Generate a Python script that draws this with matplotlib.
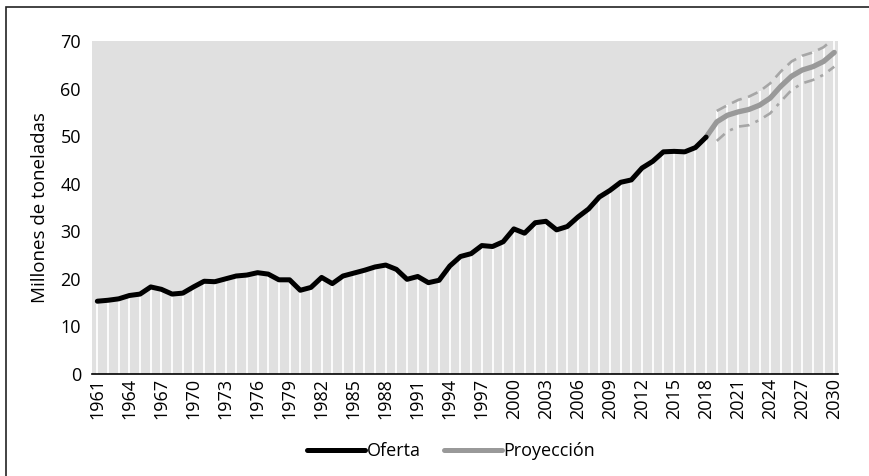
import matplotlib
matplotlib.use("Agg")
import matplotlib.pyplot as plt
from matplotlib.lines import Line2D
import numpy as np

plt.rcParams['font.family'] = ['Open Sans', 'DejaVu Sans']

years = list(range(1961, 2031))
oferta = [15.3, 15.5, 15.8, 16.5, 16.8, 18.3, 17.8, 16.8, 17.0, 18.3,
          19.5, 19.4, 20.0, 20.6, 20.8, 21.3, 21.0, 19.8, 19.8, 17.6,
          18.2, 20.3, 19.0, 20.6, 21.2, 21.8, 22.5, 22.9, 22.0, 19.9,
          20.5, 19.2, 19.7, 22.7, 24.7, 25.3, 27.0, 26.8, 27.8, 30.5,
          29.6, 31.8, 32.1, 30.3, 31.0, 33.0, 34.7, 37.2, 38.6, 40.3,
          40.8, 43.3, 44.7, 46.7, 46.8, 46.7, 47.6, 49.8]
proj_years = list(range(2018, 2031))
proyeccion = [49.8, 53.0, 54.4, 55.1, 55.6, 56.5, 58.0, 60.5, 62.6, 63.9, 64.6, 65.7, 67.6]
upper_years = list(range(2019, 2031))
upper = [55.3, 56.5, 57.6, 58.3, 59.4, 61.1, 63.6, 65.7, 66.9, 67.6, 68.7, 70.6]
lower = [49.0, 51.0, 52.0, 52.3, 53.4, 54.8, 57.3, 59.7, 61.1, 61.8, 62.9, 64.6]

fig = plt.figure(figsize=(8.7, 4.76), dpi=100)
ax = fig.add_axes([92/870, 1-374/476, (838-92)/870, (374-41)/476])
ax.set_facecolor('#e0e0e0')

x_hist = np.arange(len(oferta))
x_proj = np.arange(len(proj_years)) + (2018 - 1961)
x_up = np.arange(len(upper_years)) + (2019 - 1961)

# white columns
ax.vlines(x_hist, 0, oferta, colors='white', lw=1.3, zorder=1)
ax.vlines(x_up, 0, upper, colors='white', lw=1.3, zorder=1)

ax.plot(x_up, upper, color='#a6a6a6', lw=1.9, ls=(0, (4, 2.5)), zorder=2)
ax.plot(x_up, lower, color='#a6a6a6', lw=1.9, ls=(0, (4, 2.5, 1.2, 2.5)), zorder=2)
ax.plot(x_proj, proyeccion, color='#999999', lw=3.8, solid_capstyle='round', zorder=3)
ax.plot(x_hist, oferta, color='black', lw=3.6, solid_capstyle='round', zorder=4)

ax.set_xlim(-0.5, 69.35)
ax.set_ylim(0, 70)
ax.set_yticks(range(0, 71, 10))
tick_idx = list(range(0, len(years), 3))
ax.set_xticks(tick_idx)
ax.set_xticklabels([str(years[i]) for i in tick_idx], rotation=90)
ax.tick_params(axis='both', length=0, labelsize=13)
ax.tick_params(axis='y', pad=8)
ax.tick_params(axis='x', pad=3)
for s in ['top', 'right', 'left']:
    ax.spines[s].set_visible(False)
ax.spines['bottom'].set_linewidth(1.2)
ax.spines['bottom'].set_color('black')
ax.set_ylabel('Millones de toneladas', fontsize=13.5, labelpad=8)

handles = [Line2D([], [], color='black', lw=3.6, solid_capstyle='round'),
           Line2D([], [], color='#999999', lw=3.6, solid_capstyle='round')]
fig.legend(handles, ['Oferta', 'Proyección'], loc='center', ncol=2,
           bbox_to_anchor=(451/870, 1-451/476), frameon=False, fontsize=13,
           handlelength=3.2, handletextpad=0.1, columnspacing=1.3)

# outer frame (left and top edges visible)
fig.add_artist(plt.Rectangle((6.5/870, -0.1), 1.2, 1 - 7/476 + 0.1,
                             transform=fig.transFigure, fill=False,
                             edgecolor='#222222', lw=1.2))

fig.savefig('out.png', dpi=100)
